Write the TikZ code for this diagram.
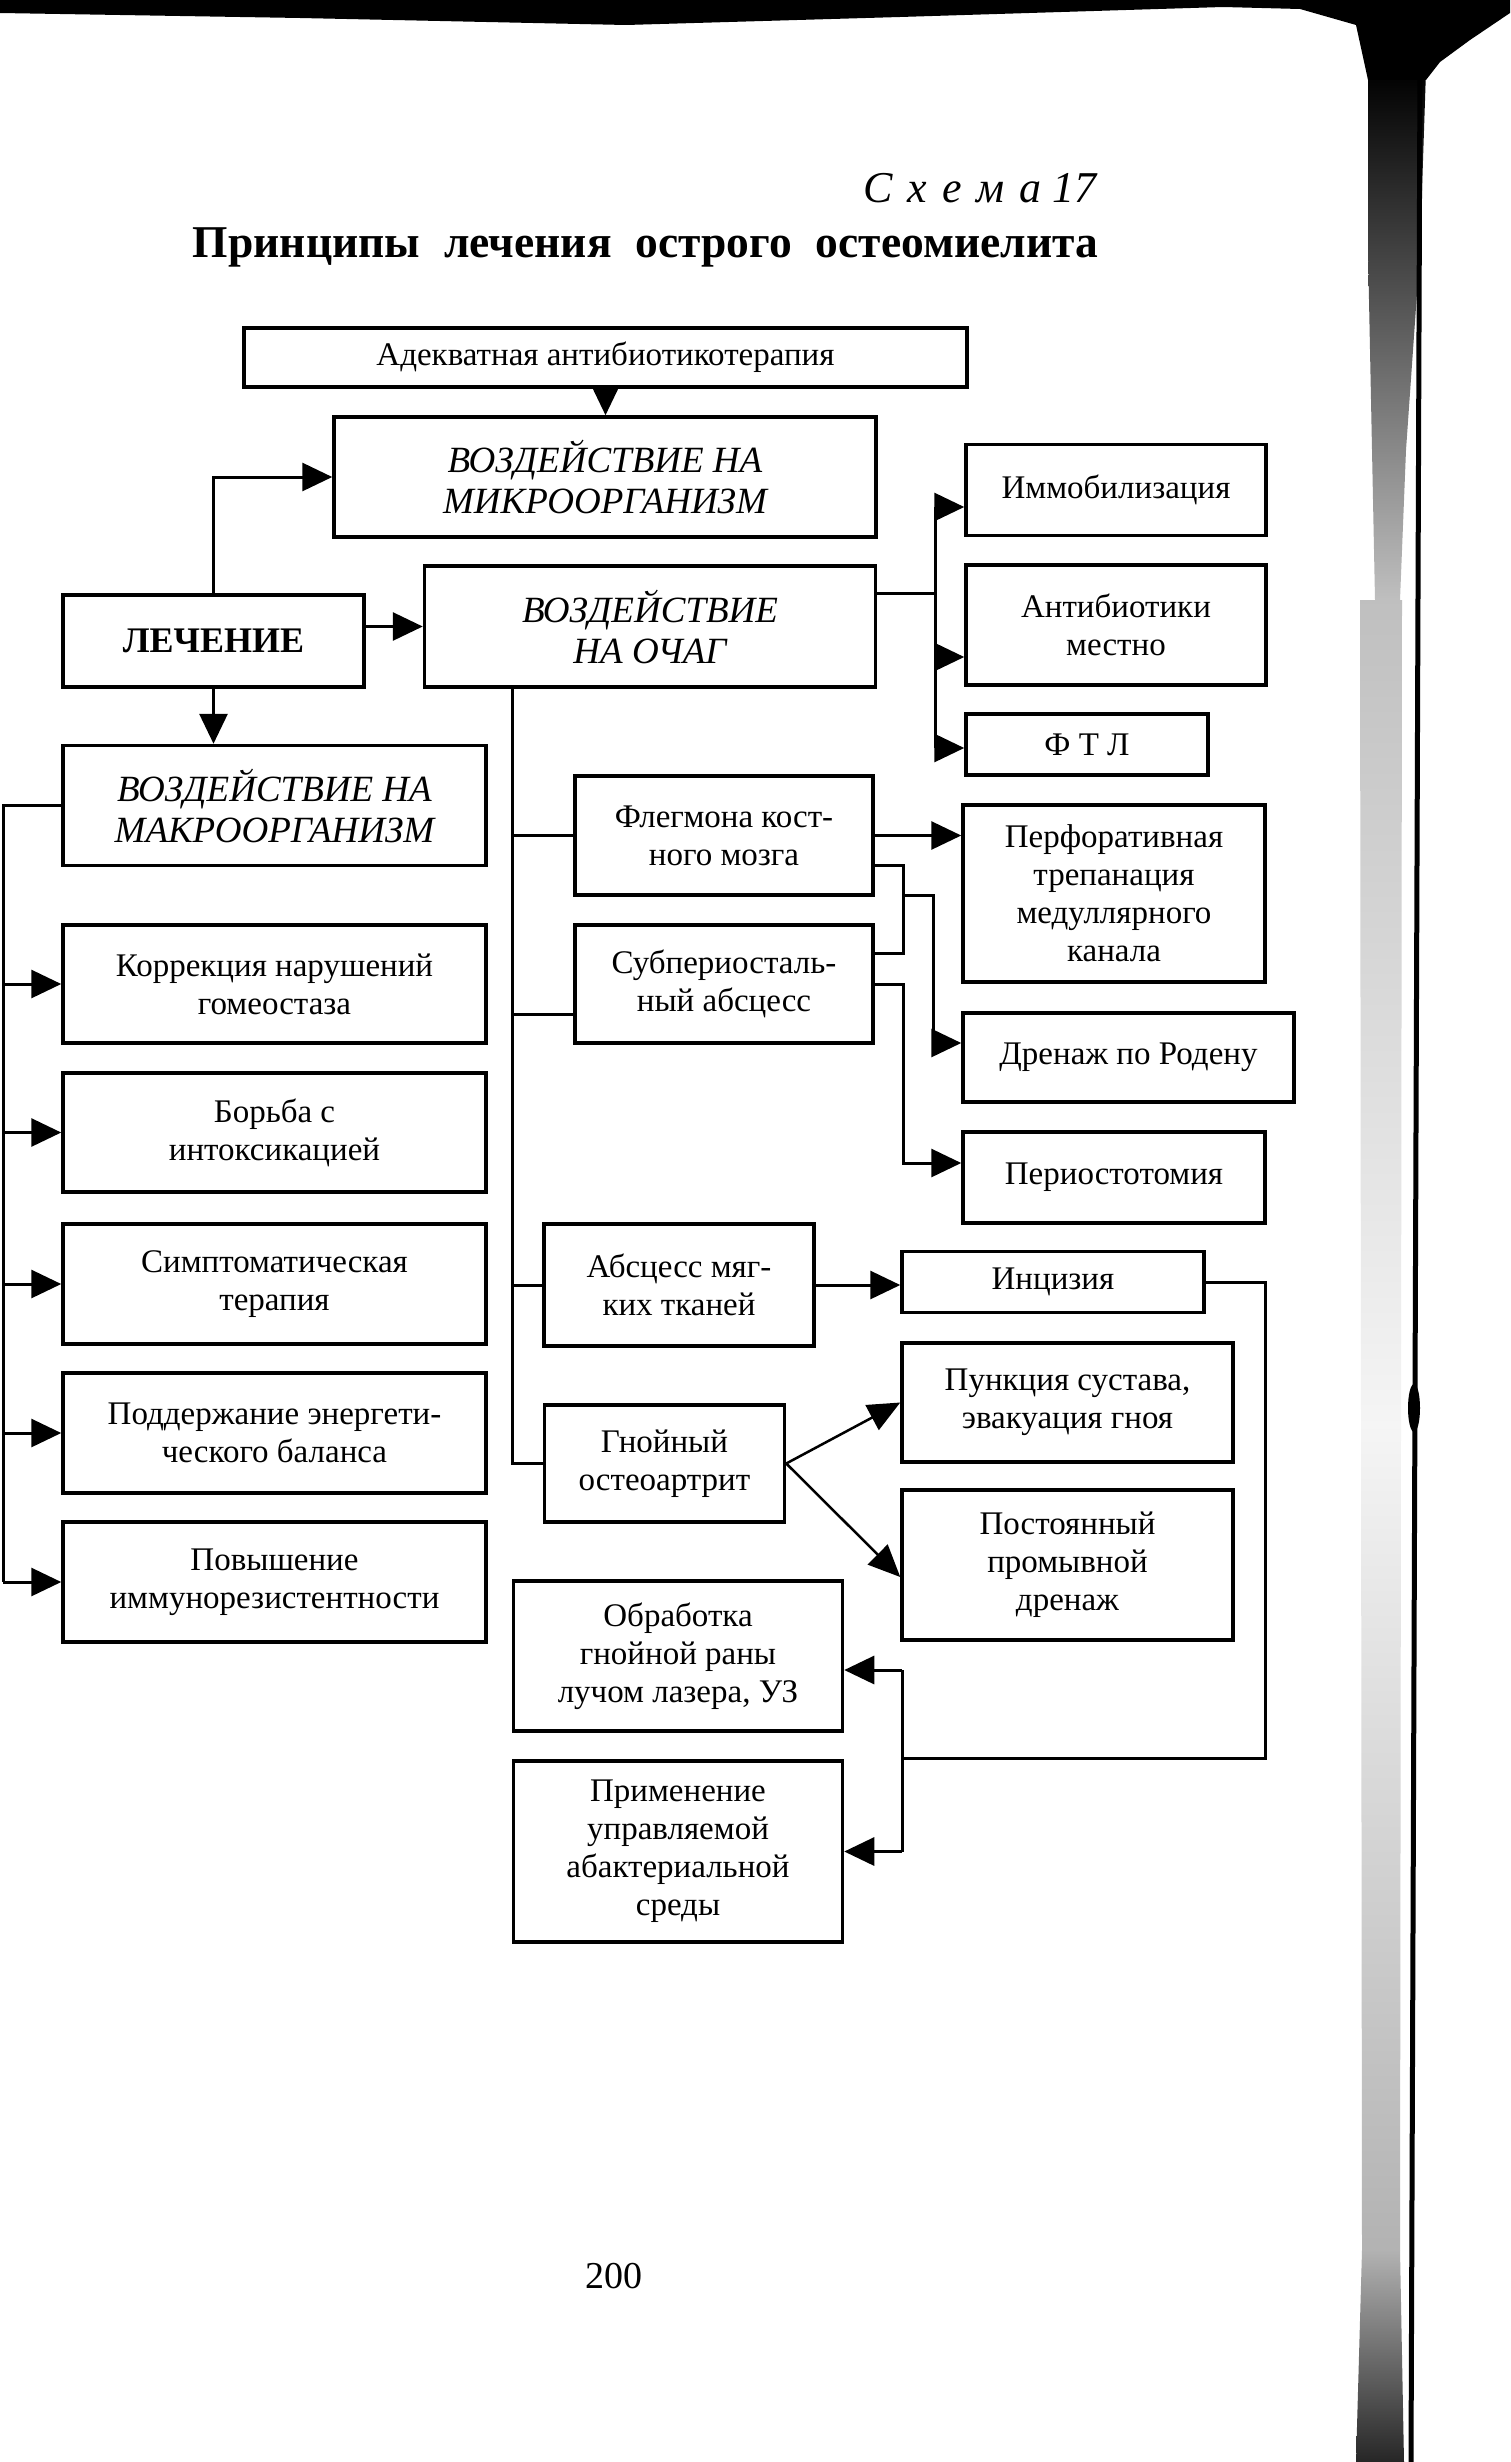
\documentclass[tikz,border=0pt]{standalone}
\usepackage{fontspec}
\setmainfont{Liberation Serif}
\usetikzlibrary{arrows.meta,calc}
\begin{document}
\begin{tikzpicture}[x=1pt,y=-1pt,
  box/.style={draw, line width=3.5pt, rectangle, inner sep=0pt, align=center, font=\fontsize{33}{38}\selectfont},
  ibox/.style={box, font=\fontsize{37}{41}\selectfont\itshape},
  ln/.style={line width=3pt},
  arr/.style={line width=3pt, -{Triangle[length=30pt,width=28pt]}},
  darr/.style={line width=2.5pt, -{Triangle[length=32pt,width=28pt]}}
]
\useasboundingbox (0,0) rectangle (1510,2462);
\fill[white] (0,0) rectangle (1510,2462);

% scan artifacts (page edge and binding shadow)
\shade[top color=black!25, bottom color=black!30, middle color=black!4] (1360,600) -- (1402,600) -- (1400,2250) -- (1362,2250) -- cycle;
\shade[top color=black!30, bottom color=black!85] (1362,2250) -- (1400,2250) -- (1404,2462) -- (1356,2462) -- cycle;
\shade[top color=black, bottom color=black!25] (1368,70) -- (1426,70) -- (1420,250) -- (1406,450) -- (1400,600) -- (1375,600) -- (1372,450) -- (1368,250) -- cycle;
\fill[black] (0,0) -- (1510,0) -- (1510,13) -- (1470,40) -- (1440,62) -- (1426,80) -- (1368,80) -- (1356,25) -- (1300,9) -- (1223,7) -- (900,17) -- (626,25) -- (300,18) -- (0,13) -- cycle;
\draw[line width=5pt] (1420,60) -- (1411,2462);
\fill (1414,1408) ellipse [x radius=6pt, y radius=24pt];

% titles
\node[font=\fontsize{44}{48}\selectfont\itshape, anchor=base east, inner sep=0pt] (schema) at (1097,202) {С\kern15pt х\kern15pt е\kern15pt м\kern15pt а 17};
\node[font=\fontsize{45.5}{50}\selectfont\bfseries, anchor=base, inner sep=0pt] (title) at (645.5,257) {\spaceskip=24pt\relax Принципы лечения острого остеомиелита};

% boxes
\node[box, minimum width=723pt, minimum height=59pt] (adek) at (605.5,357.5) {\raisebox{-4pt}{Адекватная антибиотикотерапия}};
\node[ibox, minimum width=542pt, minimum height=120pt] (micro) at (605,477) {ВОЗДЕЙСТВИЕ НА\\МИКРООРГАНИЗМ};
\node[box, minimum width=300pt, minimum height=91pt] (immob) at (1116,490) {Иммобилизация};
\node[box, font=\fontsize{36}{40}\selectfont\bfseries, minimum width=301pt, minimum height=92pt] (lech) at (213.5,641) {ЛЕЧЕНИЕ};
\node[ibox, minimum width=451pt, minimum height=121pt] (ochag) at (650,626.5) {ВОЗДЕЙСТВИЕ\\НА ОЧАГ};
\node[box, minimum width=300pt, minimum height=120pt] (antib) at (1116,625) {Антибиотики\\местно};
\node[box, minimum width=242pt, minimum height=61pt] (ftl) at (1087,744.5) {Ф Т Л};
\node[ibox, minimum width=423pt, minimum height=120pt] (makro) at (274.5,805.5) {ВОЗДЕЙСТВИЕ НА\\МАКРООРГАНИЗМ};
\node[box, minimum width=298pt, minimum height=119pt] (fleg) at (724,835.5) {Флегмона кост-\\ного мозга};
\node[box, minimum width=302pt, minimum height=177pt] (perf) at (1114,893.5) {Перфоративная\\трепанация\\медуллярного\\канала};
\node[box, minimum width=423pt, minimum height=118pt] (korr) at (274.5,984) {Коррекция нарушений\\гомеостаза};
\node[box, minimum width=298pt, minimum height=118pt] (subp) at (724,984) {Субпериосталь-\\ный абсцесс};
\node[box, minimum width=331pt, minimum height=89pt] (dren) at (1128.5,1057.5) {Дренаж по Родену};
\node[box, minimum width=423pt, minimum height=119pt] (borba) at (274.5,1132.5) {Борьба с\\интоксикацией};
\node[box, minimum width=302pt, minimum height=91pt] (perio) at (1114,1177.5) {Периостотомия};
\node[box, minimum width=423pt, minimum height=120pt] (sympt) at (274.5,1284) {Симптоматическая\\терапия};
\node[box, minimum width=270pt, minimum height=122pt] (absc) at (679,1285) {Абсцесс мяг-\\ких тканей};
\node[box, minimum width=302pt, minimum height=61pt] (inc) at (1053,1282) {\raisebox{-3pt}{Инцизия}};
\node[box, minimum width=423pt, minimum height=120pt] (podd) at (274.5,1433) {Поддержание энергети-\\ческого баланса};
\node[box, minimum width=331pt, minimum height=119pt] (punk) at (1067.5,1402.5) {Пункция сустава,\\эвакуация гноя};
\node[box, minimum width=240pt, minimum height=117pt] (gnoi) at (664.5,1463.5) {Гнойный\\остеоартрит};
\node[box, minimum width=331pt, minimum height=150pt] (post) at (1067.5,1565) {Постоянный\\промывной\\дренаж};
\node[box, minimum width=423pt, minimum height=120pt] (povy) at (274.5,1582) {Повышение\\иммунорезистентности};
\node[box, minimum width=329pt, minimum height=150pt] (obr) at (678,1656) {Обработка\\гнойной раны\\лучом лазера, УЗ};
\node[box, minimum width=329pt, minimum height=181pt] (prim) at (678,1851.5) {Применение\\управляемой\\абактериальной\\среды};

\node[font=\fontsize{38}{42}\selectfont, anchor=base, inner sep=0pt] (pnum) at (614,2288) {200};

% top connectors
\draw[arr] (adek.south) -- (adek.south |- micro.north);
\draw[arr] (lech.north) |- (micro.west);
\draw[arr] (lech.east |- ochag.west) -- (ochag.west);
\draw[arr] (lech.south) -- (lech.south |- makro.north);

% right column
\coordinate (ocx) at ([yshift=33.5pt]ochag.east);
\coordinate (rc1) at (935,507);
\coordinate (rc2) at (935,657);
\coordinate (rc3) at (935,748);
\draw[ln] (ocx) -- (ocx -| rc1);
\draw[ln] (rc1) -- (rc3);
\draw[arr] (rc1) -- (rc1 -| immob.west);
\draw[arr] (rc2) -- (rc2 -| antib.west);
\draw[arr] (rc3) -- (rc3 -| ftl.west);

% central spine
\coordinate (sp0) at ([xshift=90pt]ochag.south west);
\draw[ln] (sp0) |- (gnoi.west);
\draw[ln] (fleg.west -| sp0) -- (fleg.west);
\coordinate (subpin) at ([yshift=-30pt]subp.west);
\draw[ln] (subpin -| sp0) -- (subpin);
\draw[ln] (absc.west -| sp0) -- (absc.west);

% left spine
\coordinate (lsp) at (3,805);
\draw[ln] (makro.west) -- (makro.west -| lsp) -- (povy.west -| lsp);
\foreach \n in {korr,borba,sympt,podd,povy} \draw[arr] (\n.west -| lsp) -- (\n.west);

% phlegmon / subperiosteal
\draw[arr] (fleg.east) -- (fleg.east -| perf.west);
\coordinate (fl2) at ([yshift=-29.5pt]fleg.east);
\coordinate (sb1) at ([yshift=31pt]subp.east);
\coordinate (bx) at (903,895);
\draw[ln] (fl2) -- (fl2 -| bx) -- (sb1 -| bx) -- (sb1);
\coordinate (drin) at ([yshift=14.5pt]dren.west);
\draw[arr] (bx) -- ++(30,0) |- (drin);
\coordinate (peri) at ([yshift=14.5pt]perio.west);
\draw[arr] (subp.east) -- (subp.east -| bx) -- (bx |- peri) -- (peri);

% soft tissue abscess
\draw[arr] (absc.east) -- (absc.east -| inc.west);
\coordinate (vx) at (902,1758);
\draw[ln] (inc.east) -- ++(60,0) |- (vx);
\coordinate (obin) at ([yshift=-14pt]obr.east);
\draw[ln] (obin -| vx) -- (prim.east -| vx);
\draw[arr] (obin -| vx) -- (obin);
\draw[arr] (prim.east -| vx) -- (prim.east);

% purulent osteoarthritis
\draw[darr] (gnoi.east) -- (punk.west);
\coordinate (poin) at ([yshift=-12pt]post.west);
\draw[darr] (gnoi.east) -- (poin);
\end{tikzpicture}
\end{document}
